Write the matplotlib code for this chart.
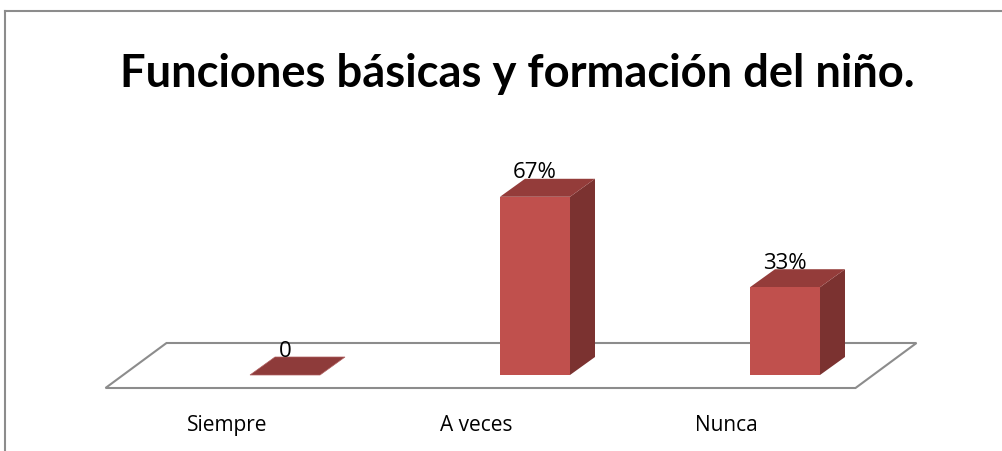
import matplotlib.pyplot as plt
from matplotlib.patches import Polygon
from matplotlib.lines import Line2D

# donnees du graphique
categories = ["Siempre", "A veces", "Nunca"]
valeurs = [0, 67, 33]
etiquettes = ["0", "67%", "33%"]
titre = "Funciones básicas y formación del niño."

# geometrie (unites : categorie en x, pourcentage en y)
PX_X = 250.0   # pixels par categorie
PX_Y = 2.66    # pixels par point de pourcentage
LARG = 70 / PX_X
DEC_BARRE = 54.5 / PX_X          # decalage de la face avant
BASE = 13 / PX_Y                 # base de la barre au-dessus du bord avant
PROF_X, PROF_Y = 25 / PX_X, 18 / PX_Y
SOL_X, SOL_Y = 61 / PX_X, 45 / PX_Y

ROUGE = "#C0504D"
DESSUS = "#943C3A"
COTE = "#7B3230"
GRIS = "#8C8C8C"

fig = plt.figure(figsize=(10.02, 4.52), dpi=100)
ax = fig.add_axes([0, 0, 1, 1])
ax.set_xlim(-230.5 / PX_X, (1002 - 230.5) / PX_X)
ax.set_ylim((389 - 452) / PX_Y, 389 / PX_Y)
ax.axis("off")

# cadre du graphique
fig.add_artist(Line2D([5 / 1002, 1], [1 - 12 / 452] * 2, color=GRIS, lw=1.5))
fig.add_artist(Line2D([5 / 1002] * 2, [0, 1 - 12 / 452], color=GRIS, lw=1.5))

# sol en perspective
n = len(categories)
g, d = -0.5, n - 0.5
sol = [(g, 0), (d, 0), (d + SOL_X, SOL_Y), (g + SOL_X, SOL_Y)]
ax.add_patch(Polygon(sol, closed=True, facecolor="white", edgecolor=GRIS, lw=1.5, zorder=1))

for i, (v, lab) in enumerate(zip(valeurs, etiquettes)):
    x0 = i + DEC_BARRE - LARG / 2
    x1 = x0 + LARG
    y0 = BASE
    y1 = BASE + v
    if v > 0:
        avant = [(x0, y0), (x1, y0), (x1, y1), (x0, y1)]
        dessus = [(x0, y1), (x1, y1), (x1 + PROF_X, y1 + PROF_Y), (x0 + PROF_X, y1 + PROF_Y)]
        cote = [(x1, y0), (x1 + PROF_X, y0 + PROF_Y), (x1 + PROF_X, y1 + PROF_Y), (x1, y1)]
        ax.add_patch(Polygon(cote, closed=True, facecolor=COTE, edgecolor="none", zorder=2))
        ax.add_patch(Polygon(dessus, closed=True, facecolor=DESSUS, edgecolor="none", zorder=2))
        ax.add_patch(Polygon(avant, closed=True, facecolor=ROUGE, edgecolor="none", zorder=3))
    else:
        plat = [(x0, y0), (x1, y0), (x1 + PROF_X, y0 + PROF_Y), (x0 + PROF_X, y0 + PROF_Y)]
        ax.add_patch(Polygon(plat, closed=True, facecolor="#8E3B3A", edgecolor="#B06060",
                             lw=0.5, zorder=2))
    ax.text(i + DEC_BARRE, y1 + PROF_Y + 0.5, lab, ha="center", va="baseline",
            fontsize=16, family="Open Sans", zorder=4)

# etiquettes des categories
for i, c in enumerate(categories):
    ax.text(i - 0.015, -37 / PX_Y, c, ha="center", va="center", fontsize=15,
            family="Open Sans")

fig.text(517 / 1002, 1 - 74 / 452, titre, ha="center", va="center",
         fontsize=32.7, fontweight="bold", family="Lato")

fig.savefig("out.png", dpi=100)
